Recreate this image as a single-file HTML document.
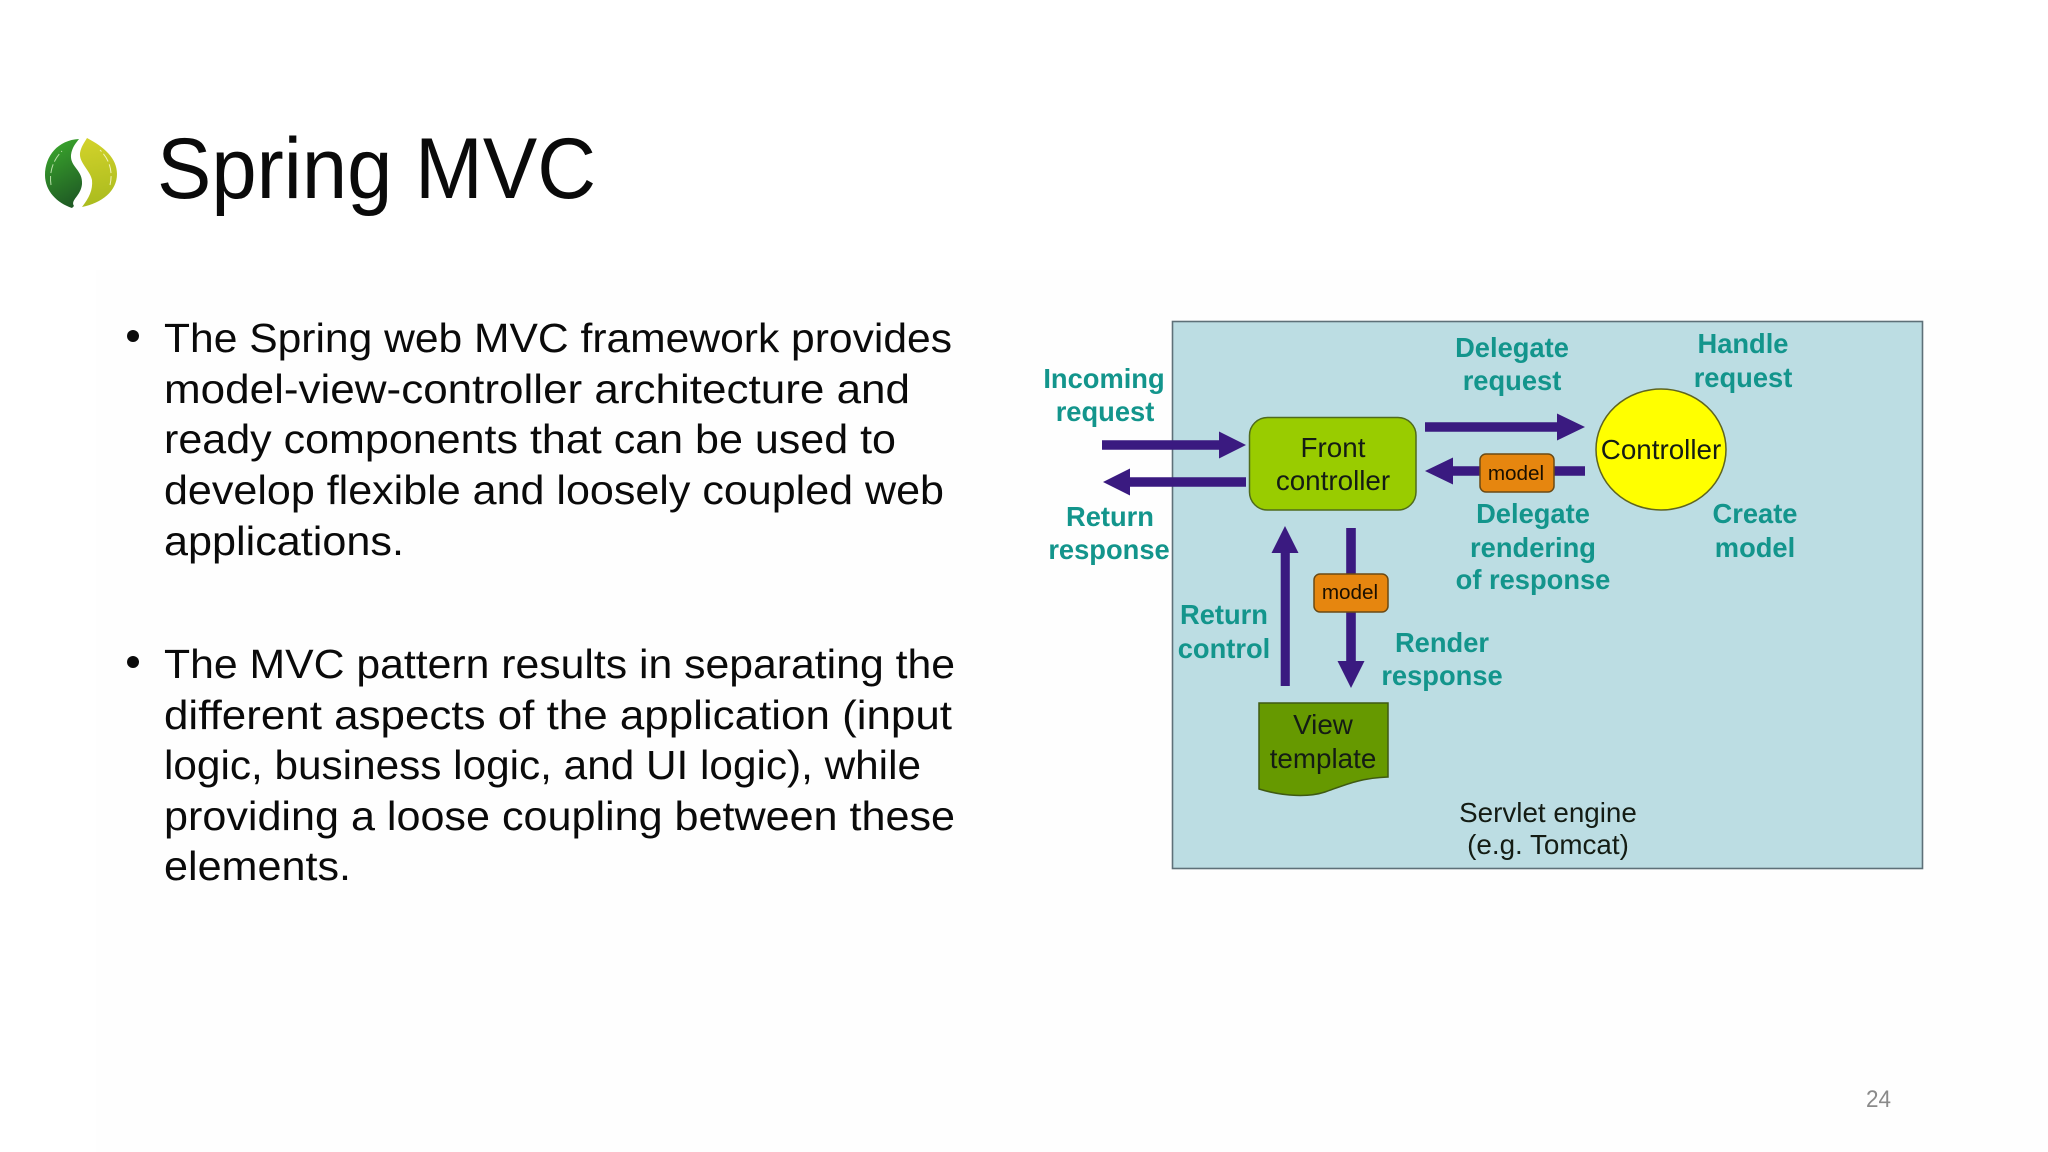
<!DOCTYPE html>
<html lang="en">
<head>
<meta charset="utf-8">
<title>Spring MVC</title>
<style>
html,body{margin:0;padding:0;background:#fff;width:2048px;height:1152px;overflow:hidden}
svg{display:block}
text{font-family:"Liberation Sans",sans-serif}
.body{font-size:41px;fill:#0a0a0a}
.t{font-size:27.3px;font-weight:bold;fill:#13958c;text-anchor:middle}
.k{font-size:27.8px;fill:#141c14;text-anchor:middle}
.m{font-size:20.7px;fill:#1a0f00;text-anchor:middle}
</style>
</head>
<body>
<svg width="2048" height="1152" viewBox="0 0 2048 1152" xmlns="http://www.w3.org/2000/svg">
<defs>
<linearGradient id="lg" x1="0.3" y1="0" x2="0.6" y2="1"><stop offset="0" stop-color="#3aa62c"/><stop offset="1" stop-color="#1f5a24"/></linearGradient>
<linearGradient id="ly" x1="0.4" y1="0" x2="0.5" y2="1"><stop offset="0" stop-color="#d2d22a"/><stop offset="1" stop-color="#a9bb1e"/></linearGradient>
</defs>
<rect width="2048" height="1152" fill="#fff"/>
<rect x="96" y="270" width="1952" height="882" fill="#fefefe"/>

<!-- logo -->
<path d="M79 139 C58 140 45 156 45 175 C45 191 57 203 72 208 L74 206 C70 200 81 196 82 184 C83 170 70 167 71 155 C72 147 76 143 79 139 Z" fill="url(#lg)"/>
<path d="M87 138 C104 147 117 158 117 174 C117 191 102 203 82 207 C89 198 93 190 92 180 C90 170 79 163 80 153 C81 147 84 143 87 138 Z" fill="url(#ly)"/>
<path d="M51 185 C49 172 53 160 62 151" fill="none" stroke="#b9e0a8" stroke-width="1" stroke-dasharray="9 3"/>
<path d="M110 185 C113 172 110 160 100 150" fill="none" stroke="#f2f2b8" stroke-width="1" stroke-dasharray="9 3"/>

<!-- title -->
<text x="157" y="198" font-size="86" fill="#0a0a0a" textLength="439" lengthAdjust="spacingAndGlyphs">Spring MVC</text>

<!-- bullets -->
<circle cx="133" cy="336" r="6" fill="#0a0a0a"/>
<circle cx="133" cy="662" r="6" fill="#0a0a0a"/>
<g class="body">
<text class="body" x="164" y="352" textLength="788" lengthAdjust="spacingAndGlyphs">The Spring web MVC framework provides</text>
<text class="body" x="164" y="403" textLength="746" lengthAdjust="spacingAndGlyphs">model-view-controller architecture and</text>
<text class="body" x="164" y="453" textLength="732" lengthAdjust="spacingAndGlyphs">ready components that can be used to</text>
<text class="body" x="164" y="504" textLength="780" lengthAdjust="spacingAndGlyphs">develop flexible and loosely coupled web</text>
<text class="body" x="164" y="555" textLength="240" lengthAdjust="spacingAndGlyphs">applications.</text>
<text class="body" x="164" y="678" textLength="791" lengthAdjust="spacingAndGlyphs">The MVC pattern results in separating the</text>
<text class="body" x="164" y="729" textLength="788" lengthAdjust="spacingAndGlyphs">different aspects of the application (input</text>
<text class="body" x="164" y="779" textLength="757" lengthAdjust="spacingAndGlyphs">logic, business logic, and UI logic), while</text>
<text class="body" x="164" y="830" textLength="791" lengthAdjust="spacingAndGlyphs">providing a loose coupling between these</text>
<text class="body" x="164" y="880" textLength="187" lengthAdjust="spacingAndGlyphs">elements.</text>
</g>

<!-- diagram background -->
<rect x="1172.5" y="321.5" width="750" height="547" fill="#bcdde3" stroke="#5e7078" stroke-width="1.6"/>

<!-- arrows -->
<g fill="#3a1a80">
<path d="M1102 440.2H1219V431.5L1246 445L1219 458.5V449.8H1102Z"/>
<path d="M1246 477.2H1130V468.5L1103 482L1130 495.5V486.8H1246Z"/>
<path d="M1425 422.2H1557V413.5L1585 427L1557 440.5V431.8H1425Z"/>
<path d="M1585 466.2H1453V457.5L1425 471L1453 484.5V475.8H1585Z"/>
<path d="M1280.7 686V553H1271.5L1285 526L1298.5 553H1289.8V686Z"/>
<path d="M1346.2 528V661H1337.5L1351 688L1364.5 661H1355.8V528Z"/>
</g>

<!-- nodes -->
<rect x="1249.5" y="417.5" width="166.5" height="92.5" rx="18" fill="#99cc00" stroke="#4f6b1c" stroke-width="1.5"/>
<ellipse cx="1661" cy="449.5" rx="65" ry="60.5" fill="#ffff00" stroke="#5f6420" stroke-width="1.5"/>
<rect x="1480" y="454" width="74" height="38" rx="6" fill="#e6860f" stroke="#6b4a14" stroke-width="1.5"/>
<rect x="1314" y="574" width="74" height="38" rx="6" fill="#e6860f" stroke="#6b4a14" stroke-width="1.5"/>
<path d="M1259 703H1388V777C1360 778 1345 785 1325 792C1310 797 1285 797 1259 789Z" fill="#669900" stroke="#3f5a12" stroke-width="1.5"/>

<!-- black labels -->
<text class="k" x="1333" y="457">Front</text>
<text class="k" x="1333" y="490">controller</text>
<text class="k" x="1661" y="459">Controller</text>
<text class="m" x="1516" y="480">model</text>
<text class="m" x="1350" y="599">model</text>
<text class="k" x="1323" y="734">View</text>
<text class="k" x="1323" y="768">template</text>
<text class="k" x="1548" y="822">Servlet engine</text>
<text class="k" x="1548" y="854">(e.g. Tomcat)</text>

<!-- teal labels -->
<text class="t" x="1104" y="388">Incoming</text>
<text class="t" x="1105" y="421">request</text>
<text class="t" x="1110" y="526">Return</text>
<text class="t" x="1109" y="559">response</text>
<text class="t" x="1512" y="357">Delegate</text>
<text class="t" x="1512" y="390">request</text>
<text class="t" x="1743" y="353">Handle</text>
<text class="t" x="1743" y="387">request</text>
<text class="t" x="1533" y="523">Delegate</text>
<text class="t" x="1533" y="557">rendering</text>
<text class="t" x="1533" y="589">of response</text>
<text class="t" x="1755" y="523">Create</text>
<text class="t" x="1755" y="557">model</text>
<text class="t" x="1224" y="624">Return</text>
<text class="t" x="1224" y="658">control</text>
<text class="t" x="1442" y="652">Render</text>
<text class="t" x="1442" y="685">response</text>

<!-- page number -->
<text x="1866" y="1107" font-size="24" fill="#8a8a8a" textLength="25" lengthAdjust="spacingAndGlyphs">24</text>
</svg>
</body>
</html>
